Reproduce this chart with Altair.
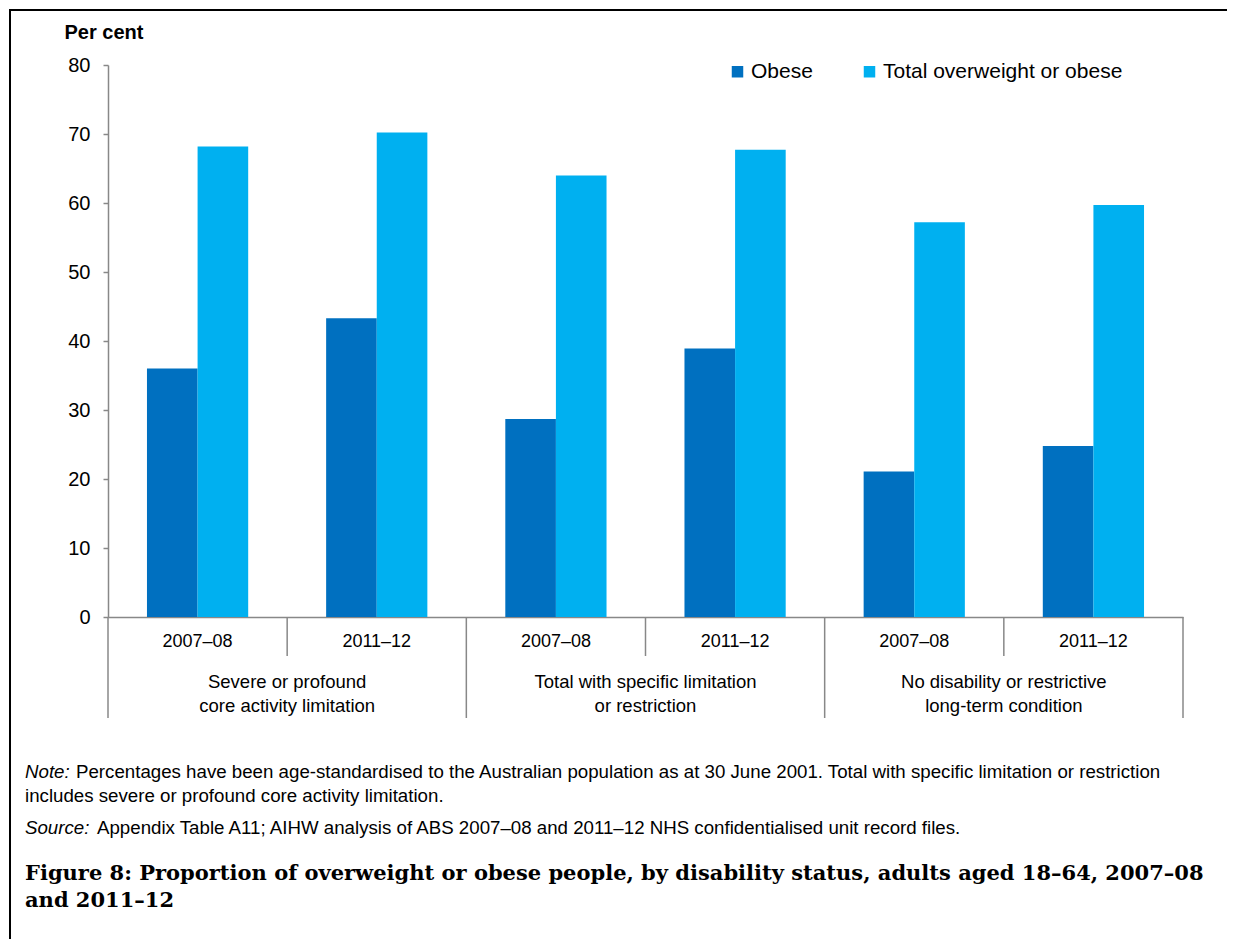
import altair as alt
import pandas as pd

groups = ["Severe or profound|core activity limitation",
          "Total with specific limitation|or restriction",
          "No disability or restrictive|long-term condition"]
years = ["2007–08", "2011–12"]
series = ["Obese", "Total overweight or obese"]
obese = [36.0, 43.3, 28.7, 38.9, 21.1, 24.8]
total = [68.2, 70.2, 64.0, 67.7, 57.2, 59.7]
colors = ["#0070C0", "#00B0F0"]

y_title = "Per cent"
note_lead = "Note:"
note_l1 = "Percentages have been age-standardised to the Australian population as at 30 June 2001. Total with specific limitation or restriction"
note_l2 = "includes severe or profound core activity limitation."
source_lead = "Source:"
source_text = "Appendix Table A11; AIHW analysis of ABS 2007–08 and 2011–12 NHS confidentialised unit record files."
fig_title = ["Figure 8: Proportion of overweight or obese people, by disability status, adults aged 18–64, 2007–08",
             "and 2011–12"]

FONT = "Liberation Sans"
W, H = 1075, 552

slots = []
rows = []
year_rows = []
k = 0
for gi, g in enumerate(groups):
    for y in years:
        slot = f"{gi}-{y}"
        slots.append(slot)
        rows.append({"slot": slot, "series": series[0], "value": obese[k]})
        rows.append({"slot": slot, "series": series[1], "value": total[k]})
        year_rows.append({"slot": slot, "year": y})
        k += 1
df = pd.DataFrame(rows)
df_year = pd.DataFrame(year_rows)
df_group = pd.DataFrame({"pos": [1, 3, 5], "label": [g.split("|") for g in groups]})
df_short = pd.DataFrame({"pos": [1, 3, 5]})
df_long = pd.DataFrame({"pos": [0, 2, 4, 6]})

xband = alt.Scale(domain=slots, paddingInner=0, paddingOuter=0)
xquant = alt.Scale(domain=[0, 6], nice=False, zero=False)

bars = alt.Chart(df).mark_bar().encode(
    x=alt.X("slot:N", scale=xband, sort=slots,
            axis=alt.Axis(labels=False, ticks=False, title=None, domainColor="#888888", domainWidth=1.5)),
    xOffset=alt.XOffset("series:N", sort=series,
                        scale=alt.Scale(domain=series, paddingInner=0, paddingOuter=0.77)),
    y=alt.Y("value:Q", scale=alt.Scale(domain=[0, 80], nice=False),
            axis=alt.Axis(values=list(range(0, 81, 10)), grid=False, tickSize=5,
                          labelFontSize=20, labelFont=FONT, labelColor="#000000", labelPadding=13,
                          domainColor="#888888", tickColor="#888888", domainWidth=1.5, tickWidth=1.5,
                          title=y_title, titleFont=FONT, titleFontSize=20, titleFontWeight="bold",
                          titleAngle=0, titleAlign="left", titleBaseline="middle",
                          titleX=-44, titleY=-33, titleColor="#000000")),
    color=alt.Color("series:N", sort=series, scale=alt.Scale(domain=series, range=colors),
                    legend=alt.Legend(title=None, orient="none", legendX=619, legendY=-4,
                                      direction="horizontal", columnPadding=46,
                                      symbolType="square", symbolSize=132, symbolStrokeWidth=0,
                                      labelFont=FONT, labelFontSize=21, labelColor="#000000",
                                      labelOffset=3, labelLimit=600)),
)

year_text = alt.Chart(df_year).mark_text(font=FONT, fontSize=18, color="#000000", baseline="middle").encode(
    x=alt.X("slot:N", scale=xband, sort=slots, axis=None),
    y=alt.value(H + 25),
    text="year:N",
)

group_text = alt.Chart(df_group).mark_text(font=FONT, fontSize=18.5, color="#000000",
                                          baseline="middle", lineHeight=24).encode(
    x=alt.X("pos:Q", scale=xquant, axis=None),
    y=alt.value(H + 65),
    text="label",
)

short_rules = alt.Chart(df_short).mark_rule(color="#888888", strokeWidth=1.5).encode(
    x=alt.X("pos:Q", scale=xquant, axis=None),
    y=alt.value(H),
    y2=alt.value(H + 39),
)
long_rules = alt.Chart(df_long).mark_rule(color="#888888", strokeWidth=1.5).encode(
    x=alt.value(0) if False else alt.X("pos:Q", scale=xquant, axis=None),
    y=alt.value(H),
    y2=alt.value(H + 101),
)

border_top = alt.Chart(df_short).mark_rule(color="#000000", strokeWidth=2).encode(
    x=alt.value(-98), x2=alt.value(1140), y=alt.value(-55))
border_left = alt.Chart(df_short).mark_rule(color="#000000", strokeWidth=2).encode(
    x=alt.value(-98), y=alt.value(-56), y2=alt.value(920))

def txt(s, x, y, size=18.7, style="normal", weight="normal", font=FONT):
    return alt.Chart(pd.DataFrame({"t": [s]})).mark_text(
        font=font, fontSize=size, fontStyle=style, fontWeight=weight, align="left",
        baseline="middle", color="#000000", lineHeight=27).encode(
        x=alt.value(x), y=alt.value(y), text="t")

notes = [
    txt(note_lead, -83, 707, style="italic"),
    txt(note_l1, -32, 707),
    txt(note_l2, -83, 731),
    txt(source_lead, -83, 763, style="italic"),
    txt(source_text, -11, 763),
    alt.Chart(pd.DataFrame({"t": [fig_title]})).mark_text(
        font="DejaVu Serif", fontSize=21, fontWeight="bold", align="left",
        baseline="middle", color="#000000", lineHeight=27).encode(
        x=alt.value(-83), y=alt.value(809), text="t"),
]

chart = alt.layer(bars, year_text, group_text, short_rules, long_rules, border_top, border_left, *notes).resolve_scale(
    x="independent"
).properties(
    width=W, height=H,
    autosize=alt.AutoSizeParams(type="none"),
    padding={"left": 100, "top": 57, "right": 44, "bottom": 322},
).configure_view(stroke=None)

chart.save("out.html", embed_options={"renderer": "svg", "actions": False})
